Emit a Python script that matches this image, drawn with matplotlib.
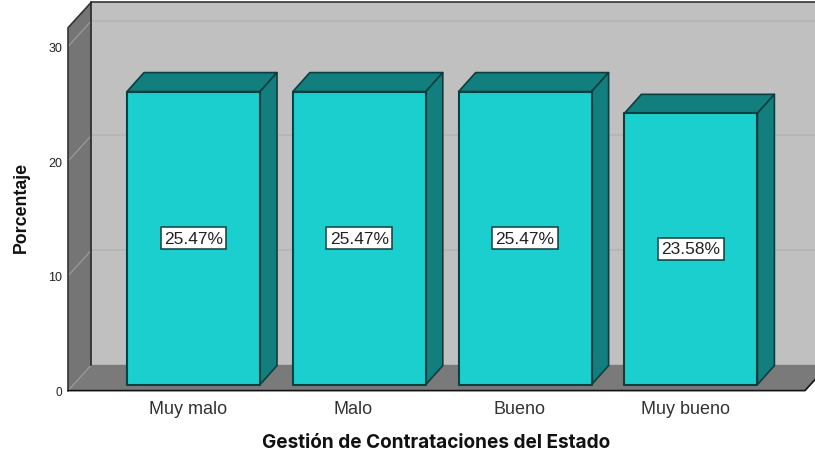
import matplotlib
matplotlib.use("Agg")
import matplotlib.pyplot as plt
from matplotlib.patches import Polygon

categories = ["Muy malo", "Malo", "Bueno", "Muy bueno"]
values = [25.47, 25.47, 25.47, 23.58]
labels = ["25.47%", "25.47%", "25.47%", "23.58%"]
y_ticks = [0, 10, 20, 30]

plt.rcParams["font.family"] = ["Liberation Sans", "DejaVu Sans"]

W = 815
H = 452
# pixel scale of the data
px_x = 165.8
px_y = 11.47
x0_px = 193.5
y0_px = 391.6

# 3d look, everything in data units
wall_dx = 23.5 / px_x
wall_dy = 25.8 / px_y
bar_dx = 17 / px_x
bar_dy = 19 / px_y
bar_lift = 6 / px_y
bar_w = 133 / px_x
left = (68 - x0_px) / px_x
right = (805 - x0_px) / px_x
top = (391.6 - 3 - 25.8) / px_y

back_col = "#c0c0c0"
side_col = "#757575"
floor_col = "#7a7a7a"
grid_col = "#b4b4b4"
front_col = "#1ccfcf"
shade_col = "#127e7e"
edge_col = "#0b3f3f"


def poly(ax, pts, color, edge=None, lw=1.2, z=1):
    ax.add_patch(Polygon(pts, closed=True, facecolor=color, edgecolor=edge if edge else color,
                         linewidth=lw if edge else 0, joinstyle="round", zorder=z))


def draw_walls(ax):
    b = wall_dx
    d = wall_dy
    poly(ax, [(left + b, d), (right + b, d), (right + b, top + d), (left + b, top + d)], back_col, z=1)
    poly(ax, [(left, 0), (left + b, d), (left + b, top + d), (left, top)], side_col, z=2)
    poly(ax, [(left, 0), (right, 0), (right + b, d), (left + b, d)], floor_col, z=2)
    for t in y_ticks[1:]:
        ax.plot([left + b, right + b], [t + d, t + d], color=grid_col, lw=1.1, zorder=1.5)
        ax.plot([left, left + b], [t, t + d], color="#9a9a9a", lw=0.9, zorder=2.5)
    ax.plot([left, left + b], [0, d], color="#9a9a9a", lw=0.9, zorder=2.5)
    # outline
    ax.plot([left, left, left + b, right + b], [0, top, top + d, top + d], color="#333333", lw=1.2, zorder=3)
    ax.plot([left + b, left + b], [d, top + d], color="#222222", lw=1.1, zorder=3)
    ax.plot([left, right, right + b], [0, 0, d], color="#111111", lw=1.2, zorder=3)


def draw_bar(ax, i, v, label):
    x1 = i - bar_w / 2
    x2 = i + bar_w / 2
    y1 = bar_lift
    y2 = bar_lift + v * (293 / 25.47) / px_y
    poly(ax, [(x1, y2), (x2, y2), (x2 + bar_dx, y2 + bar_dy), (x1 + bar_dx, y2 + bar_dy)], shade_col, edge_col, z=5)
    poly(ax, [(x2, y1), (x2 + bar_dx, y1 + bar_dy), (x2 + bar_dx, y2 + bar_dy), (x2, y2)], shade_col, edge_col, z=5)
    poly(ax, [(x1, y1), (x2, y1), (x2, y2), (x1, y2)], front_col, edge_col, lw=1.5, z=6)
    ax.text(i, (y1 + y2) / 2, label, ha="center", va="center", fontsize=12.5, color="#222222", zorder=7,
            bbox=dict(boxstyle="square,pad=0.2", facecolor="white", edgecolor=edge_col, linewidth=1.1))


def main():
    fig = plt.figure(figsize=(W / 100, H / 100), dpi=100)
    ax = fig.add_axes([0, 0, 1, 1])
    ax.set_xlim(-x0_px / px_x, (W - x0_px) / px_x)
    ax.set_ylim((y0_px - H) / px_y, y0_px / px_y)
    ax.axis("off")

    draw_walls(ax)
    for i in range(len(categories)):
        draw_bar(ax, i, values[i], labels[i])
        ax.text(i - 0.035, -18 / px_y, categories[i], ha="center", va="center", fontsize=13, color="#333333")

    for t in y_ticks:
        ax.text(left - 6 / px_x, t - 1.5 / px_y, str(t), ha="right", va="center", fontsize=9 if t else 8.5, color="#222222")

    fig.text(436.5 / W, 1 - 443 / H, "Gestión de Contrataciones del Estado", ha="center", va="center",
             fontsize=13.7, fontweight="bold", color="#111111", family="Inter")
    fig.text(21 / W, 1 - 207 / H, "Porcentaje", ha="center", va="center", rotation=90,
             fontsize=12.8, fontweight="bold", color="#111111")
    fig.savefig("out.png", dpi=100)


if __name__ == "__main__":
    main()
